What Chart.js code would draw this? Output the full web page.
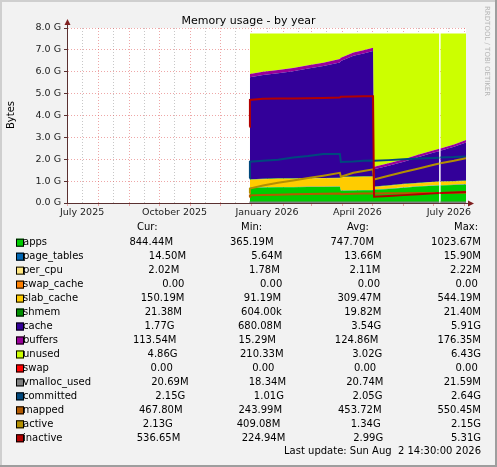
<!DOCTYPE html>
<html>
<head>
<meta charset="utf-8">
<script src="https://cdn.jsdelivr.net/npm/chart.js@4.4.1/dist/chart.umd.min.js"></script>
<style>
  html, body { margin: 0; padding: 0; background: #f2f2f2; }
  canvas { display: block; }
</style>
</head>
<body>
<canvas id="memChart" width="497" height="467"></canvas>
<script>
// time axis: days since 1 July 2025
const days = [181.5, 182, 195, 210, 225, 240, 255, 271.5, 272.5, 285, 295, 304.5, 305.5, 320, 335, 350, 365, 370.5, 371, 371.5, 385, 397]

// stacked areas (GiB)
const apps       = [null, .70, .71, .72, .72, .73, .73, .74, .56, .57, .58, .58, .60, .64, .70, .75, .79, .80, null, .80, .82, .84]
const pageTables = [null, .013, .013, .014, .014, .014, .014, .015, .015, .015, .015, .015, .012, .013, .013, .014, .014, .014, null, .014, .014, .014]
const perCpu     = [null, .002, .002, .002, .002, .002, .002, .002, .002, .002, .002, .002, .002, .002, .002, .002, .002, .002, null, .002, .002, .002]
const swapCache  = [null, 0, 0, 0, 0, 0, 0, 0, 0, 0, 0, 0, 0, 0, 0, 0, 0, 0, null, 0, 0, 0]
const slabCache  = [null, .35, .36, .37, .37, .37, .38, .38, .60, .60, .60, .60, .12, .13, .14, .14, .15, .15, null, .15, .15, .15]
const shmem      = [null, .021, .021, .021, .021, .021, .021, .021, .021, .021, .021, .021, .021, .021, .021, .021, .021, .021, null, .021, .021, .021]
const cache      = [null, 4.66, 4.74, 4.80, 4.90, 5.01, 5.12, 5.27, 5.29, 5.52, 5.62, 5.73, .79, .90, 1.01, 1.18, 1.33, 1.38, null, 1.40, 1.56, 1.74]
const buffers    = [null, .15, .15, .15, .15, .15, .15, .15, .15, .15, .15, .15, .11, .11, .11, .11, .11, .11, null, .11, .11, .11]
const unused     = [null, 1.85, 1.75, 1.67, 1.57, 1.45, 1.33, 1.17, 1.11, .87, .76, .65, 6.09, 5.93, 5.75, 5.53, 5.33, 5.27, null, 5.25, 5.07, 4.87]
const swap       = [null, 0, 0, 0, 0, 0, 0, 0, 0, 0, 0, 0, 0, 0, 0, 0, 0, 0, null, 0, 0, 0]

// lines (GiB)
const vmallocUsed = [.019, .019, .019, .02, .02, .02, .02, .02, .02, .02, .02, .02, .02, .02, .02, .021, .021, .021, null, .021, .021, .02]
const committed   = [1.13, 1.89, 1.93, 1.98, 2.08, 2.15, 2.24, 2.24, 1.88, 1.90, 1.93, 1.94, 1.93, 1.96, 2.00, 2.03, 2.06, 2.07, null, 2.08, 2.10, 2.13]
const mapped      = [.27, .35, .37, .38, .40, .41, .42, .43, .40, .42, .43, .44, .44, .45, .45, .46, .46, .46, null, .46, .47, .47]
const active      = [.45, .66, .80, .93, 1.03, 1.14, 1.25, 1.38, 1.20, 1.38, 1.46, 1.54, 1.08, 1.25, 1.42, 1.58, 1.75, 1.81, null, 1.82, 1.93, 2.05]
const inactive    = [3.49, 4.71, 4.77, 4.78, 4.78, 4.79, 4.80, 4.82, 4.86, 4.87, 4.88, 4.88, .29, .32, .36, .40, .44, .46, null, .46, .48, .50]

// axis ticks
const monthStarts = [0, 31, 62, 92, 123, 153, 184, 215, 243, 274, 304, 335, 365, 396]
const midMonths = [15, 46, 77, 107, 138, 168, 199, 230, 258, 289, 319, 350, 380]
const labelDays = [15, 107, 199, 289, 380]
const labelText = ['July 2025', 'October 2025', 'January 2026', 'April 2026', 'July 2026']
const yTicks = [0, .5, 1, 1.5, 2, 2.5, 3, 3.5, 4, 4.5, 5, 5.5, 6, 6.5, 7, 7.5, 8]

// legend table
const names = ['apps', 'page_tables', 'per_cpu', 'swap_cache', 'slab_cache', 'shmem', 'cache', 'buffers', 'unused', 'swap', 'vmalloc_used', 'committed', 'mapped', 'active', 'inactive']
const curVals = ['844.44M', '14.50M', '2.02M', '0.00', '150.19M', '21.38M', '1.77G', '113.54M', '4.86G', '0.00', '20.69M', '2.15G', '467.80M', '2.13G', '536.65M']
const minVals = ['365.19M', '5.64M', '1.78M', '0.00', '91.19M', '604.00k', '680.08M', '15.29M', '210.33M', '0.00', '18.34M', '1.01G', '243.99M', '409.08M', '224.94M']
const avgVals = ['747.70M', '13.66M', '2.11M', '0.00', '309.47M', '19.82M', '3.54G', '124.86M', '3.02G', '0.00', '20.74M', '2.05G', '453.72M', '1.34G', '2.99G']
const maxVals = ['1023.67M', '15.90M', '2.22M', '0.00', '544.19M', '21.40M', '5.91G', '176.35M', '6.43G', '0.00', '21.59M', '2.64G', '550.45M', '2.15G', '5.31G']

const colors = ['#00CC00', '#0066B3', '#FFE680', '#FF8000', '#FFCC00', '#008F00', '#330099', '#990099', '#CCFF00', '#FF0000', '#808080', '#00487D', '#B35A00', '#B38F00', '#B30000']

const areaSeries = [apps, pageTables, perCpu, swapCache, slabCache, shmem, cache, buffers, unused, swap]
const lineSeries = [vmallocUsed, committed, mapped, active, inactive]

const FONT = '"DejaVu Sans", "Liberation Sans", sans-serif'
const majorGrid = 'rgba(222,79,79,0.5)'
const minorGrid = 'rgba(143,143,143,0.5)'
const axisColor = '#5a3030'
const arrowColor = '#801f1f'

const toPoints = arr => days.map((d, i) => ({ x: d, y: arr[i] }))

let datasets = []
areaSeries.forEach((arr, i) => {
    datasets.push({
        label: names[i],
        data: toPoints(arr),
        stack: 'mem',
        backgroundColor: colors[i],
        borderWidth: 0,
        pointRadius: 0,
        fill: i === 0 ? 'origin' : '-1',
        order: 10
    })
})
lineSeries.forEach((arr, j) => {
    datasets.push({
        label: names[10 + j],
        data: toPoints(arr),
        stack: 'line' + j,
        borderColor: colors[10 + j],
        borderWidth: 2,
        pointRadius: 0,
        fill: false,
        order: 5 - j
    })
})

const pad = s => s + ' '.repeat(Math.max(0, 12 - s.length))
const fmt = s => {
    let m = s.match(/^([\d.]+)(\D?)$/)
    return m[1].padStart(6, ' ') + (m[2] || ' ')
}

const rrdLook = {
    id: 'rrdLook',
    beforeDraw(chart) {
        const ctx = chart.ctx
        const a = chart.chartArea
        ctx.save()
        ctx.fillStyle = '#f2f2f2'
        ctx.fillRect(0, 0, chart.width, chart.height)
        // shading frame
        ctx.fillStyle = '#cfcfcf'
        ctx.fillRect(0, 0, chart.width, 2)
        ctx.fillRect(0, 0, 2, chart.height)
        ctx.fillStyle = '#9e9e9e'
        ctx.fillRect(0, chart.height - 2, chart.width, 2)
        ctx.fillRect(chart.width - 2, 0, 2, chart.height)
        ctx.fillStyle = '#ffffff'
        ctx.fillRect(a.left, a.top, a.right - a.left, a.bottom - a.top)
        ctx.restore()
    },
    afterDraw(chart) {
        const ctx = chart.ctx
        const a = chart.chartArea
        ctx.save()
        // axis extensions and arrows
        ctx.strokeStyle = axisColor
        ctx.lineWidth = 1
        ctx.beginPath()
        ctx.moveTo(a.left + 0.5, a.top)
        ctx.lineTo(a.left + 0.5, a.top - 6)
        ctx.moveTo(a.right, a.bottom + 0.5)
        ctx.lineTo(a.right + 4, a.bottom + 0.5)
        ctx.stroke()
        ctx.fillStyle = arrowColor
        ctx.beginPath()
        ctx.moveTo(a.left + 0.5, a.top - 9)
        ctx.lineTo(a.left - 2.5, a.top - 3)
        ctx.lineTo(a.left + 3.5, a.top - 3)
        ctx.closePath()
        ctx.fill()
        ctx.beginPath()
        ctx.moveTo(a.right + 8, a.bottom + 0.5)
        ctx.lineTo(a.right + 2, a.bottom - 2.5)
        ctx.lineTo(a.right + 2, a.bottom + 3.5)
        ctx.closePath()
        ctx.fill()

        // title
        ctx.fillStyle = '#000'
        ctx.textAlign = 'center'
        ctx.textBaseline = 'middle'
        ctx.font = '11px ' + FONT
        ctx.fillText('Memory usage - by year', chart.width / 2, 21)

        // y label
        ctx.save()
        ctx.translate(11, 115)
        ctx.rotate(-Math.PI / 2)
        ctx.font = '10px ' + FONT
        ctx.fillText('Bytes', 0, 0)
        ctx.restore()

        // watermark
        ctx.save()
        ctx.translate(487, 6)
        ctx.rotate(Math.PI / 2)
        ctx.textAlign = 'left'
        ctx.fillStyle = '#b5b5b5'
        ctx.font = '7px ' + FONT
        ctx.fillText('RRDTOOL / TOBI OETIKER', 0, 0)
        ctx.restore()

        // legend header
        ctx.font = '10px ' + FONT
        ctx.fillStyle = '#000'
        ctx.textAlign = 'left'
        const heads = ['Cur:', 'Min:', 'Avg:', 'Max:']
        const headX = [137, 241, 347, 454]
        heads.forEach((h, k) => ctx.fillText(h, headX[k], 227.5))

        // legend rows, justified like rrdtool
        const left = 16, right = 481
        names.forEach((name, i) => {
            const yc = 242.7 + i * 13.97
            const parts = [pad(name), fmt(curVals[i]), fmt(minVals[i]), fmt(avgVals[i]), fmt(maxVals[i])]
            const widths = parts.map(p => ctx.measureText(p).width)
            widths[0] += 7
            const total = widths.reduce((s, w) => s + w, 0)
            const gap = (right - left - total) / (parts.length - 1)
            ctx.fillStyle = colors[i]
            ctx.fillRect(16, yc - 4, 8, 8)
            ctx.strokeStyle = '#000'
            ctx.lineWidth = 1
            ctx.strokeRect(16.5, yc - 3.5, 7, 7)
            ctx.fillStyle = '#000'
            let x = left
            parts.forEach((p, k) => {
                ctx.fillText(p, k === 0 ? x + 7 : x, yc)
                x += widths[k] + gap
            })
        })

        ctx.textAlign = 'right'
        ctx.fillText('Last update: Sun Aug  2 14:30:00 2026', 481, 451)
        ctx.restore()
    }
}

new Chart(document.getElementById('memChart').getContext('2d'), {
    type: 'line',
    data: { datasets: datasets },
    plugins: [rrdLook],
    options: {
        responsive: false,
        animation: false,
        devicePixelRatio: 1,
        events: [],
        layout: { padding: { left: 0, right: 31, top: 28, bottom: 244 } },
        elements: { line: { tension: 0 } },
        plugins: {
            legend: { display: false },
            tooltip: { enabled: false },
            filler: { propagate: false }
        },
        scales: {
            x: {
                type: 'linear',
                min: 0,
                max: 397,
                z: 1,
                afterBuildTicks: s => { s.ticks = monthStarts.concat(midMonths).sort((p, q) => p - q).map(v => ({ value: v })) },
                afterFit: s => { s.height = 20; s.paddingLeft = 0; s.paddingRight = 0 },
                ticks: {
                    autoSkip: false,
                    maxRotation: 0,
                    padding: 1,
                    color: '#222',
                    font: { family: FONT, size: 9.5 },
                    callback: v => {
                        let k = labelDays.indexOf(v)
                        return k < 0 ? '' : labelText[k]
                    }
                },
                grid: {
                    color: c => monthStarts.includes(c.tick.value) ? majorGrid : minorGrid,
                    tickColor: c => monthStarts.includes(c.tick.value) ? majorGrid : 'rgba(0,0,0,0)',
                    tickLength: 3,
                    lineWidth: 1
                },
                border: { color: axisColor, dash: [1, 2] }
            },
            y: {
                stacked: true,
                min: 0,
                max: 8,
                z: 1,
                afterBuildTicks: s => { s.ticks = yTicks.map(v => ({ value: v })) },
                afterFit: s => { s.width = 67; s.paddingTop = 0; s.paddingBottom = 0 },
                ticks: {
                    padding: 3,
                    color: '#222',
                    font: { family: FONT, size: 9.5 },
                    callback: v => Number.isInteger(v) ? v.toFixed(1) + ' G' : ''
                },
                grid: {
                    color: c => Number.isInteger(c.tick.value) ? majorGrid : minorGrid,
                    tickColor: c => Number.isInteger(c.tick.value) ? axisColor : 'rgba(0,0,0,0)',
                    tickLength: 3,
                    lineWidth: 1
                },
                border: { color: axisColor, dash: [1, 2] }
            }
        }
    }
})
</script>
</body>
</html>
